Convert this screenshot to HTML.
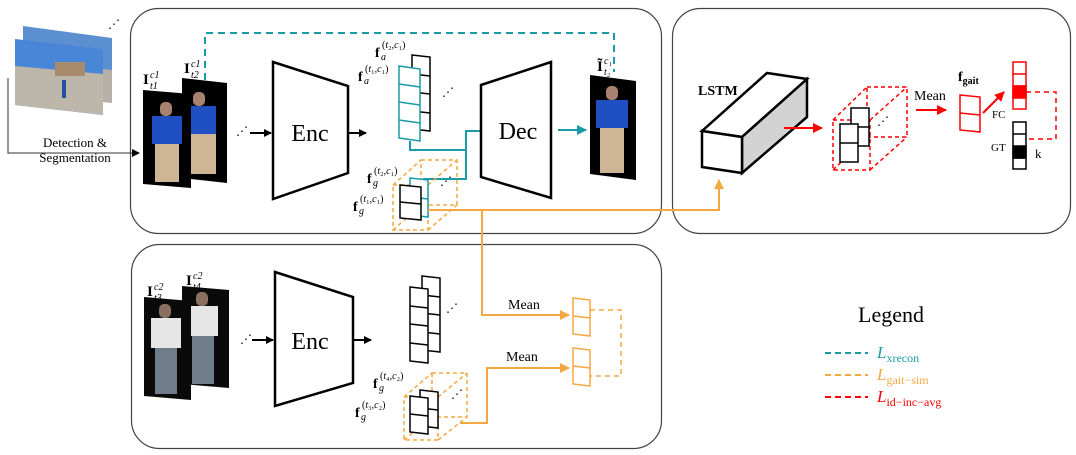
<!DOCTYPE html>
<html><head><meta charset="utf-8"><style>
html,body{margin:0;padding:0;background:#fff;}
svg{display:block;font-family:"Liberation Serif",serif;}
</style></head><body>
<svg width="1076" height="455" viewBox="0 0 1076 455" xmlns="http://www.w3.org/2000/svg">
<defs>
<marker id="ab" markerWidth="8" markerHeight="8" refX="7" refY="4" orient="auto" markerUnits="userSpaceOnUse"><path d="M0,0 L8,4 L0,8 z" fill="#000"/></marker>
<marker id="at" markerWidth="10" markerHeight="10" refX="9" refY="5" orient="auto" markerUnits="userSpaceOnUse"><path d="M0,0 L10,5 L0,10 z" fill="#1a9ba8"/></marker>
<marker id="ao" markerWidth="10" markerHeight="10" refX="9" refY="5" orient="auto" markerUnits="userSpaceOnUse"><path d="M0,0 L10,5 L0,10 z" fill="#f5a742"/></marker>
<marker id="ar" markerWidth="10" markerHeight="10" refX="9" refY="5" orient="auto" markerUnits="userSpaceOnUse"><path d="M0,0 L10,5 L0,10 z" fill="#f00"/></marker>
</defs>

<!-- panels -->
<rect x="130.5" y="8.5" width="531" height="225" rx="28" fill="none" stroke="#444" stroke-width="1.2"/>
<rect x="672.5" y="8.5" width="398" height="225" rx="28" fill="none" stroke="#444" stroke-width="1.2"/>
<rect x="131.5" y="244.5" width="530" height="204" rx="28" fill="none" stroke="#444" stroke-width="1.2"/>

<!-- source images -->
<polygon points="23,26 112,38 112,103 23,92" fill="#5b8fd0"/>
<polygon points="23,60 112,70 112,103 23,92" fill="#b7b0a6"/>
<polygon points="15,39 103,49 103,115 15,105" fill="#4a86d8"/>
<polygon points="15,66 103,74 103,115 15,105" fill="#bdb6ab"/>
<rect x="55" y="62" width="30" height="14" fill="#a88a6c"/>
<rect x="62" y="80" width="4" height="18" fill="#2a4fa0"/>
<text x="108" y="28" font-size="12">⋰</text>

<!-- detection line -->
<polyline points="8,78 8,153 139,153" fill="none" stroke="#333" stroke-width="1" marker-end="url(#ab)"/>
<text x="75" y="147" font-size="13" text-anchor="middle">Detection &amp;</text>
<text x="75" y="162" font-size="13" text-anchor="middle">Segmentation</text>

<!-- teal dashed top -->
<polyline points="205,80 205,33 614,33 614,72" fill="none" stroke="#1a9ba8" stroke-width="2" stroke-dasharray="7,5"/>

<!-- top person images -->
<polygon points="182,78 227,83 227,183 182,178" fill="#000"/>
<rect x="193" y="92" width="12" height="14" rx="5" fill="#a88270"/>
<rect x="188" y="106" width="28" height="28" fill="#1f4fc2"/>
<rect x="190" y="134" width="26" height="40" fill="#cdb596"/>
<polygon points="143,90 191,94 191,188 143,184" fill="#000"/>
<rect x="160" y="102" width="12" height="14" rx="5" fill="#a88270"/>
<rect x="152" y="116" width="30" height="28" fill="#1f4fc2"/>
<rect x="155" y="144" width="24" height="38" fill="#cdb596"/>
<text x="143" y="84" font-size="15" font-weight="bold">I</text><text x="150" y="78" font-size="10" font-style="italic">c1</text><text x="150" y="89" font-size="10" font-style="italic">t1</text>
<text x="184" y="73" font-size="15" font-weight="bold">I</text><text x="191" y="67" font-size="10" font-style="italic">c1</text><text x="191" y="78" font-size="10" font-style="italic">t2</text>

<text x="236" y="135" font-size="12">⋰</text>
<line x1="250" y1="133" x2="271" y2="133" stroke="#000" stroke-width="2" marker-end="url(#ab)"/>

<!-- Enc top -->
<polygon points="273,62 348,86 348,173 273,199" fill="#fff" stroke="#000" stroke-width="2.5"/>
<text x="310" y="141" font-size="24" text-anchor="middle">Enc</text>
<line x1="348" y1="133" x2="366" y2="133" stroke="#000" stroke-width="2" marker-end="url(#ab)"/>

<!-- f_a stacks -->
<g fill="#fff" stroke="#000" stroke-width="1.5">
<polygon points="412,55 430,57 430,131 412,129"/>
<line x1="412" y1="74" x2="430" y2="76"/><line x1="412" y1="92" x2="430" y2="94"/><line x1="412" y1="111" x2="430" y2="113"/>
</g>
<g fill="#fff" stroke="#1a9ba8" stroke-width="1.5">
<polygon points="399,66 420,69 420,141 399,138"/>
<line x1="399" y1="84" x2="420" y2="87"/><line x1="399" y1="102" x2="420" y2="105"/><line x1="399" y1="120" x2="420" y2="123"/>
</g>
<text x="375" y="57" font-size="14" font-weight="bold">f</text><text x="381" y="60" font-size="10" font-style="italic">a</text><text x="382" y="48" font-size="10">(<tspan font-style="italic">t</tspan>₂,<tspan font-style="italic">c</tspan>₁)</text>
<text x="358" y="81" font-size="14" font-weight="bold">f</text><text x="364" y="84" font-size="10" font-style="italic">a</text><text x="365" y="72" font-size="10">(<tspan font-style="italic">t</tspan>₁,<tspan font-style="italic">c</tspan>₁)</text>
<text x="442" y="96" font-size="12">⋰</text>

<!-- teal connectors -->
<polyline points="410,141 410,150 466,150 466,131 481,131" fill="none" stroke="#1a9ba8" stroke-width="2"/>
<polyline points="466,150 466,179 423,179" fill="none" stroke="#1a9ba8" stroke-width="2"/>

<!-- Dec -->
<polygon points="481,85 551,62 551,198 481,177" fill="#fff" stroke="#000" stroke-width="2.5"/>
<text x="518" y="139" font-size="24" text-anchor="middle">Dec</text>
<line x1="558" y1="130" x2="586" y2="130" stroke="#1a9ba8" stroke-width="2" marker-end="url(#at)"/>
<polygon points="590,75 636,81 636,180 590,174" fill="#000"/>
<rect x="606" y="86" width="12" height="14" rx="5" fill="#a88270"/>
<rect x="596" y="100" width="32" height="28" fill="#1f4fc2"/>
<rect x="600" y="128" width="24" height="45" fill="#cdb596"/>
<text x="597" y="71" font-size="15" font-weight="bold">Ĩ</text><text x="604" y="64" font-size="10" font-style="italic">c₁</text><text x="604" y="75" font-size="10" font-style="italic">t₂</text>

<!-- f_g cube top -->
<g fill="none" stroke="#f5a742" stroke-width="1.5" stroke-dasharray="4,3">
<rect x="393" y="185" width="35" height="45"/>
<rect x="421" y="160" width="36" height="45"/>
<line x1="393" y1="185" x2="421" y2="160"/><line x1="428" y1="185" x2="457" y2="160"/>
<line x1="428" y1="230" x2="457" y2="205"/><line x1="393" y1="230" x2="421" y2="205"/>
</g>
<g fill="#fff" stroke="#1a9ba8" stroke-width="1.5"><polygon points="410,178 428,180 428,217 410,215"/><line x1="410" y1="197" x2="428" y2="199"/></g>
<g fill="#fff" stroke="#000" stroke-width="1.5"><polygon points="400,185 421,187 421,220 400,218"/><line x1="400" y1="202" x2="421" y2="204"/></g>
<text x="367" y="183" font-size="14" font-weight="bold">f</text><text x="373" y="186" font-size="10" font-style="italic">g</text><text x="374" y="174" font-size="10">(<tspan font-style="italic">t</tspan>₂,<tspan font-style="italic">c</tspan>₁)</text>
<text x="353" y="211" font-size="14" font-weight="bold">f</text><text x="359" y="214" font-size="10" font-style="italic">g</text><text x="360" y="202" font-size="10">(<tspan font-style="italic">t</tspan>₁,<tspan font-style="italic">c</tspan>₁)</text>
<text x="440" y="185" font-size="12">⋰</text>

<!-- orange connectors -->
<polyline points="428,210 719,210 719,180" fill="none" stroke="#f5a742" stroke-width="2" marker-end="url(#ao)"/>
<polyline points="482,210 482,315 569,315" fill="none" stroke="#f5a742" stroke-width="2" marker-end="url(#ao)"/>
<polyline points="460,423 487,423 487,368 569,368" fill="none" stroke="#f5a742" stroke-width="2" marker-end="url(#ao)"/>
<text x="508" y="309" font-size="14">Mean</text>
<text x="506" y="361" font-size="14">Mean</text>
<g fill="#fff" stroke="#f5a742" stroke-width="1.5">
<polygon points="573,298 590,300 590,336 573,334"/><line x1="573" y1="316" x2="590" y2="318"/>
<polygon points="573,348 590,350 590,386 573,384"/><line x1="573" y1="366" x2="590" y2="368"/>
</g>
<polyline points="590,310 621,310 621,376 590,376" fill="none" stroke="#f5a742" stroke-width="1.5" stroke-dasharray="5,4"/>

<!-- bottom panel -->
<polygon points="182,286 229,290 229,388 182,384" fill="#0a0a0a"/>
<rect x="196" y="292" width="12" height="14" rx="5" fill="#8a6e60"/>
<rect x="188" y="306" width="30" height="30" fill="#e6e6e6"/>
<rect x="192" y="336" width="22" height="48" fill="#6f7c8a"/>
<polygon points="144,297 191,301 191,400 144,396" fill="#0a0a0a"/>
<rect x="159" y="304" width="12" height="14" rx="5" fill="#8a6e60"/>
<rect x="151" y="318" width="30" height="30" fill="#e6e6e6"/>
<rect x="155" y="348" width="22" height="46" fill="#6f7c8a"/>
<text x="147" y="296" font-size="15" font-weight="bold">I</text><text x="154" y="290" font-size="10" font-style="italic">c2</text><text x="154" y="301" font-size="10" font-style="italic">t3</text>
<text x="186" y="285" font-size="15" font-weight="bold">I</text><text x="193" y="279" font-size="10" font-style="italic">c2</text><text x="193" y="290" font-size="10" font-style="italic">t4</text>
<text x="240" y="343" font-size="12">⋰</text>
<line x1="252" y1="340" x2="273" y2="340" stroke="#000" stroke-width="2" marker-end="url(#ab)"/>
<polygon points="275,272 353,297 353,383 275,406" fill="#fff" stroke="#000" stroke-width="2.5"/>
<text x="310" y="349" font-size="24" text-anchor="middle">Enc</text>
<line x1="353" y1="340" x2="371" y2="340" stroke="#000" stroke-width="2" marker-end="url(#ab)"/>
<g fill="#fff" stroke="#000" stroke-width="1.5">
<polygon points="422,276 440,278 440,352 422,350"/>
<line x1="422" y1="295" x2="440" y2="297"/><line x1="422" y1="313" x2="440" y2="315"/><line x1="422" y1="332" x2="440" y2="334"/>
<polygon points="410,287 428,289 428,363 410,361"/>
<line x1="410" y1="306" x2="428" y2="308"/><line x1="410" y1="324" x2="428" y2="326"/><line x1="410" y1="343" x2="428" y2="345"/>
</g>
<text x="446" y="312" font-size="12">⋰</text>
<g fill="none" stroke="#f5a742" stroke-width="1.5" stroke-dasharray="4,3">
<rect x="404" y="397" width="34" height="43"/>
<rect x="432" y="373" width="35" height="44"/>
<line x1="404" y1="397" x2="432" y2="373"/><line x1="438" y1="397" x2="467" y2="373"/>
<line x1="438" y1="440" x2="467" y2="417"/><line x1="404" y1="440" x2="432" y2="417"/>
</g>
<g fill="#fff" stroke="#000" stroke-width="1.5">
<polygon points="420,390 438,392 438,428 420,426"/><line x1="420" y1="408" x2="438" y2="410"/>
<polygon points="410,396 428,398 428,434 410,432"/><line x1="410" y1="414" x2="428" y2="416"/>
</g>
<text x="373" y="388" font-size="14" font-weight="bold">f</text><text x="379" y="391" font-size="10" font-style="italic">g</text><text x="380" y="379" font-size="10">(<tspan font-style="italic">t</tspan>₄,<tspan font-style="italic">c</tspan>₂)</text>
<text x="355" y="417" font-size="14" font-weight="bold">f</text><text x="361" y="420" font-size="10" font-style="italic">g</text><text x="362" y="408" font-size="10">(<tspan font-style="italic">t</tspan>₃,<tspan font-style="italic">c</tspan>₂)</text>
<text x="451" y="398" font-size="12">⋰</text>

<!-- right panel -->
<polygon points="702,131 767,73 807,79 742,137" fill="#fff" stroke="#000" stroke-width="2.5"/>
<polygon points="742,137 807,79 807,117 742,173" fill="#d3d3d3" stroke="#000" stroke-width="2.5"/>
<polygon points="702,131 742,137 742,173 702,167" fill="#fff" stroke="#000" stroke-width="2.5"/>
<text x="698" y="95" font-size="14" font-weight="bold">LSTM</text>
<line x1="784" y1="128" x2="822" y2="128" stroke="#f00" stroke-width="2" marker-end="url(#ar)"/>
<g fill="none" stroke="#f00" stroke-width="1.5" stroke-dasharray="4,3">
<rect x="833" y="120" width="37" height="50"/>
<rect x="867" y="87" width="40" height="50"/>
<line x1="833" y1="120" x2="867" y2="87"/><line x1="870" y1="120" x2="907" y2="87"/>
<line x1="870" y1="170" x2="907" y2="137"/><line x1="833" y1="170" x2="867" y2="137"/>
</g>
<g fill="#fff" stroke="#000" stroke-width="1.5">
<rect x="851" y="108" width="18" height="38"/><line x1="851" y1="127" x2="869" y2="127"/>
<rect x="840" y="124" width="18" height="38"/><line x1="840" y1="143" x2="858" y2="143"/>
</g>
<text x="877" y="125" font-size="12">⋰</text>
<text x="914" y="100" font-size="14">Mean</text>
<line x1="916" y1="110" x2="946" y2="110" stroke="#f00" stroke-width="2" marker-end="url(#ar)"/>
<text x="958" y="81" font-size="14" font-weight="bold">f<tspan font-size="10" dy="3">gait</tspan></text>
<g fill="#fff" stroke="#f00" stroke-width="1.5"><polygon points="960,95 980,97 980,132 960,130"/><line x1="960" y1="113" x2="980" y2="115"/></g>
<line x1="983" y1="113" x2="1004" y2="92" stroke="#f00" stroke-width="2" marker-end="url(#ar)"/>
<g stroke="#f00" stroke-width="1.5" fill="#fff">
<rect x="1013" y="62" width="13" height="47"/><line x1="1013" y1="74" x2="1026" y2="74"/><line x1="1013" y1="86" x2="1026" y2="86"/>
<rect x="1013" y="86" width="13" height="12" fill="#f00"/>
</g>
<polyline points="1026,92 1056,92 1056,139 1026,139" fill="none" stroke="#f00" stroke-width="1.5" stroke-dasharray="5,4"/>
<g stroke="#000" stroke-width="1.5" fill="#fff">
<rect x="1013" y="122" width="13" height="47"/><line x1="1013" y1="134" x2="1026" y2="134"/><line x1="1013" y1="158" x2="1026" y2="158"/>
<rect x="1013" y="146" width="13" height="12" fill="#000"/>
</g>
<text x="992" y="118" font-size="11">FC</text>
<text x="991" y="151" font-size="11">GT</text>
<text x="1035" y="158" font-size="13">k</text>

<!-- legend -->
<text x="858" y="322" font-size="22">Legend</text>
<line x1="825" y1="353" x2="868" y2="353" stroke="#1a9ba8" stroke-width="2" stroke-dasharray="6,4"/>
<line x1="825" y1="375" x2="868" y2="375" stroke="#f5a742" stroke-width="2" stroke-dasharray="6,4"/>
<line x1="825" y1="397" x2="868" y2="397" stroke="#f00" stroke-width="2" stroke-dasharray="6,4"/>
<text x="877" y="358" font-size="17" fill="#1a9ba8"><tspan font-style="italic">L</tspan><tspan font-size="12" dy="4">xrecon</tspan></text>
<text x="877" y="380" font-size="17" fill="#f5a742"><tspan font-style="italic">L</tspan><tspan font-size="12" dy="4">gait−sim</tspan></text>
<text x="877" y="402" font-size="17" fill="#f00"><tspan font-style="italic">L</tspan><tspan font-size="12" dy="4">id−inc−avg</tspan></text>
</svg>
</body></html>
